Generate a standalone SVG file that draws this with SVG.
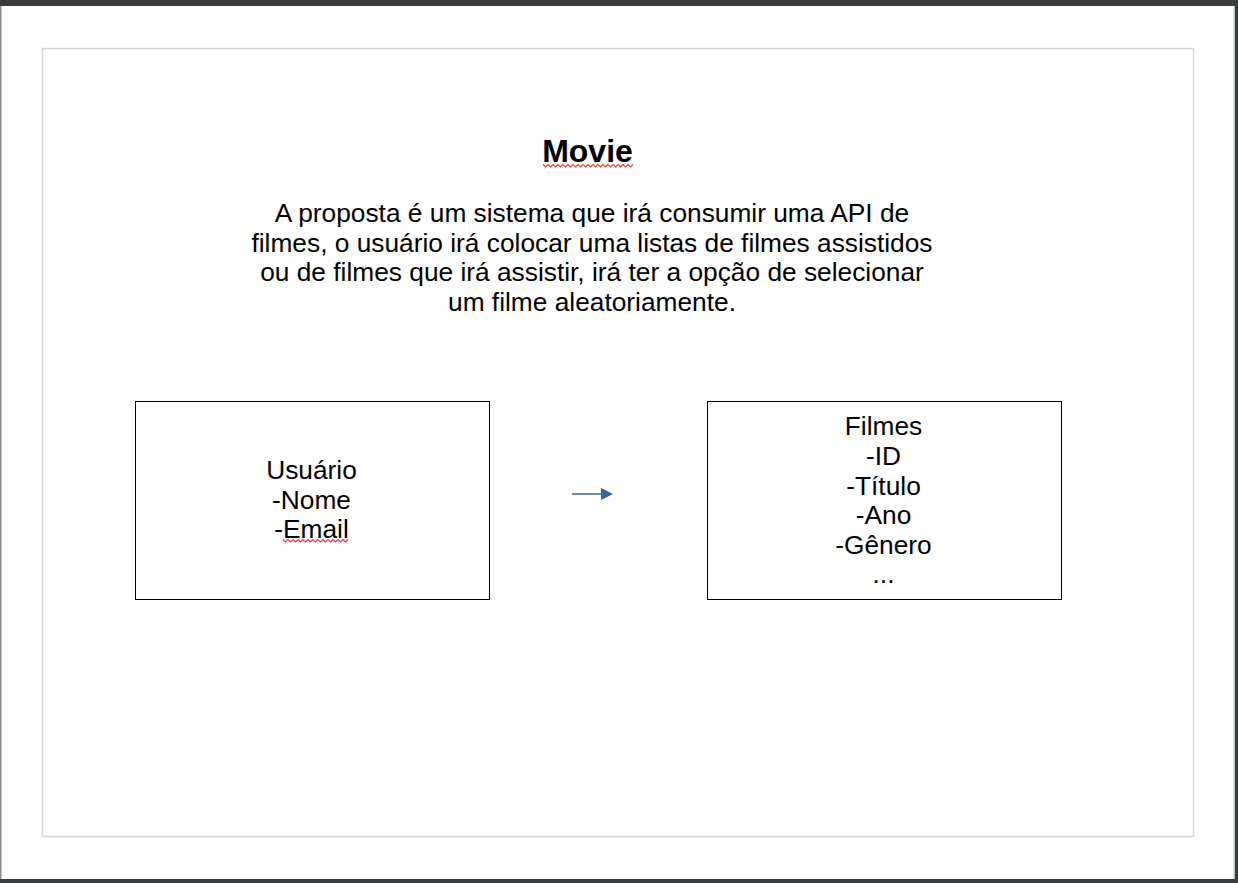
<svg xmlns="http://www.w3.org/2000/svg" width="1238" height="883" viewBox="0 0 1238 883">
<style>
.t{font-family:"Liberation Sans",Arial,sans-serif;font-size:26.3px;fill:#000;text-anchor:middle}
.title{font-family:"Liberation Sans",Arial,sans-serif;font-size:32px;font-weight:bold;fill:#000;text-anchor:middle}
.box{fill:#fff;stroke:#000;stroke-width:1}
.squig{fill:none;stroke:#f33;stroke-width:1.1}
</style>
<defs>
<marker id="ah" markerWidth="12" markerHeight="12" refX="0" refY="6" orient="auto" markerUnits="userSpaceOnUse">
<path d="M0,0 L12,6 L0,12 Z" fill="#3465a4"/>
</marker>
</defs>
<rect x="0" y="0" width="1238" height="883" fill="#fff"/>
<rect x="0" y="0" width="1238" height="6" fill="#393c3d"/>
<rect x="0" y="879" width="1238" height="4" fill="#393c3d"/>
<rect x="1235" y="0" width="3" height="883" fill="#393c3d"/>
<rect x="1233.5" y="6" width="1.5" height="873" fill="#c8c8c8"/>
<rect x="0" y="6" width="1.5" height="873" fill="#8a8a8e"/>
<rect x="42.5" y="48.5" width="1151" height="788" fill="none" stroke="#d6d6d6" stroke-width="1.5"/>
<g id="title">
<text class="title" x="587.5" y="162">Movie</text>
<path class="squig" d="M543,164.5 l2.5,2.5 l2.5,-2.5 l2.5,2.5 l2.5,-2.5 l2.5,2.5 l2.5,-2.5 l2.5,2.5 l2.5,-2.5 l2.5,2.5 l2.5,-2.5 l2.5,2.5 l2.5,-2.5 l2.5,2.5 l2.5,-2.5 l2.5,2.5 l2.5,-2.5 l2.5,2.5 l2.5,-2.5 l2.5,2.5 l2.5,-2.5 l2.5,2.5 l2.5,-2.5 l2.5,2.5 l2.5,-2.5 l2.5,2.5 l2.5,-2.5 l2.5,2.5 l2.5,-2.5 l2.5,2.5 l2.5,-2.5 l2.5,2.5 l2.5,-2.5 l2.5,2.5 l2.5,-2.5 l2.5,2.5 l2.5,-2.5"/>
</g>
<g id="description">
<text class="t" x="592" y="222">A proposta é um sistema que irá consumir uma API de</text>
<text class="t" x="592" y="251.5">filmes, o usuário irá colocar uma listas de filmes assistidos</text>
<text class="t" x="592" y="281">ou de filmes que irá assistir, irá ter a opção de selecionar</text>
<text class="t" x="592" y="310.5">um filme aleatoriamente.</text>
</g>
<g id="usuario">
<rect class="box" x="135.5" y="401.5" width="354" height="198"/>
<text class="t" x="311.5" y="479">Usuário</text>
<text class="t" x="311.5" y="508.5">-Nome</text>
<text class="t" x="311.5" y="538">-Email</text>
<path class="squig" d="M283,539.5 l2.5,2.5 l2.5,-2.5 l2.5,2.5 l2.5,-2.5 l2.5,2.5 l2.5,-2.5 l2.5,2.5 l2.5,-2.5 l2.5,2.5 l2.5,-2.5 l2.5,2.5 l2.5,-2.5 l2.5,2.5 l2.5,-2.5 l2.5,2.5 l2.5,-2.5 l2.5,2.5 l2.5,-2.5 l2.5,2.5 l2.5,-2.5 l2.5,2.5 l2.5,-2.5 l2.5,2.5 l2.5,-2.5 l2.5,2.5 l2.5,-2.5"/>
</g>
<g id="filmes">
<rect class="box" x="707.5" y="401.5" width="354" height="198"/>
<text class="t" x="883.5" y="435">Filmes</text>
<text class="t" x="883.5" y="465">-ID</text>
<text class="t" x="883.5" y="494.5">-Título</text>
<text class="t" x="883.5" y="524">-Ano</text>
<text class="t" x="883.5" y="553.5">-Gênero</text>
<text class="t" x="883.5" y="583">...</text>
</g>
<g id="connectors">
<line x1="572" y1="494" x2="601" y2="494" stroke="#3465a4" stroke-width="1.5" marker-end="url(#ah)"/>
</g>
</svg>
